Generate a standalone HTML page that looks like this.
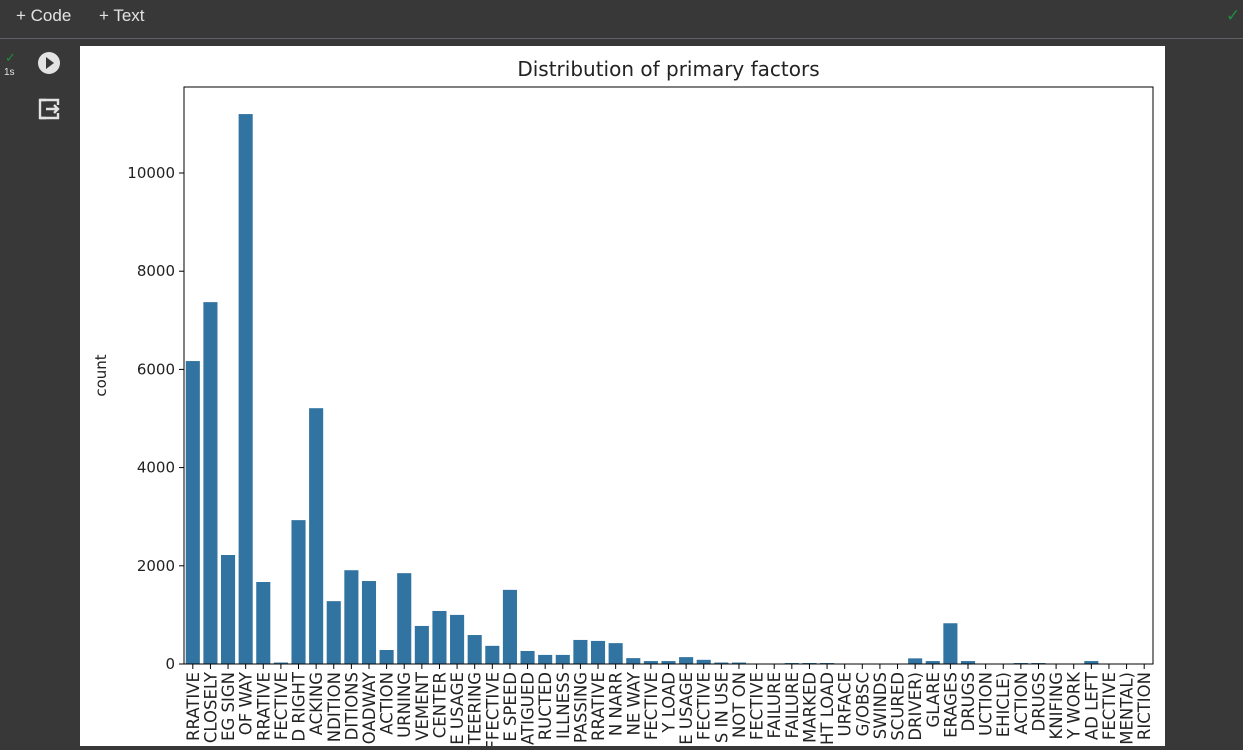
<!DOCTYPE html>
<html><head><meta charset="utf-8"><style>
body{margin:0;width:1243px;height:750px;overflow:hidden;background:#383838;font-family:"Liberation Sans",sans-serif;position:relative}
.top{position:absolute;left:0;top:0;width:1243px;height:38px;border-bottom:1px solid #5f6368;color:#e3e3e3;font-size:17px}
.top span{position:absolute;top:6px}
.out{position:absolute;left:80px;top:46px;width:1085px;height:700px;background:#fff}
</style></head><body>
<div class="top">
<span style="left:16px">+ Code</span>
<span style="left:99px">+ Text</span>
<span style="left:1226px;color:#1e8e3e">✓</span>
</div>
<div style="position:absolute;left:5px;top:50px;color:#1e8e3e;font-size:13px">✓</div>
<div style="position:absolute;left:4px;top:67px;color:#e3e3e3;font-size:10px">1s</div>
<svg style="position:absolute;left:37px;top:51px" width="26" height="26"><circle cx="12" cy="12" r="11" fill="#e3e3e3"/><path d="M9 6 L17 12 L9 18Z" fill="#383838"/></svg>
<svg style="position:absolute;left:37px;top:97px" width="26" height="26"><path d="M9 3 H3 V21 H9" stroke="#e3e3e3" stroke-width="2.4" fill="none"/><path d="M3 3 H21 V8 M21 16 V21 H3" stroke="#e3e3e3" stroke-width="2.4" fill="none"/><path d="M9 12 H21 M17 8 L21 12 L17 16" stroke="#e3e3e3" stroke-width="2.4" fill="none"/></svg>
<div class="out"></div>
<svg id="chart" style="position:absolute;left:0;top:0" width="1243" height="750"></svg>
<script>
const categories=["RRATIVE","CLOSELY","EG SIGN","OF WAY","RRATIVE","FECTIVE","D RIGHT","ACKING","NDITION","DITIONS","OADWAY","ACTION","URNING","VEMENT","CENTER","E USAGE","TEERING","FFECTIVE","E SPEED","ATIGUED","RUCTED","ILLNESS","PASSING","RRATIVE","N NARR","NE WAY","FECTIVE","Y LOAD","E USAGE","FECTIVE","S IN USE","NOT ON","FECTIVE","FAILURE","FAILURE","MARKED","HT LOAD","URFACE","G/OBSC","SWINDS","SCURED","DRIVER)","GLARE","ERAGES","DRUGS","UCTION","EHICLE)","ACTION","DRUGS","KNIFING","Y WORK","AD LEFT","FECTIVE","MENTAL)","RICTION"];
const counts=[6170,7370,2220,11200,1670,30,2930,5210,1280,1910,1690,285,1850,775,1080,1000,590,370,1510,265,185,185,490,470,425,120,60,60,140,85,30,30,0,0,20,20,20,0,0,0,0,115,60,830,60,0,0,20,20,0,0,60,0,0,0];
const yTicks=[0,2000,4000,6000,8000,10000];
const svg=document.getElementById('chart');const NS='http://www.w3.org/2000/svg';
const L=184,R=1153,T=87,B=664;
const y=v=>B-v*(491/10000);
const step=(R-L)/categories.length;
const x=i=>L+step*(i+0.5);
function mk(t,a){const e=document.createElementNS(NS,t);for(const k in a)e.setAttribute(k,a[k]);svg.appendChild(e);return e;}
counts.forEach((v,i)=>{const r=mk('rect',{x:x(i)-step*0.4,y:y(v),width:step*0.8,height:B-y(v),fill:'#3274a1'});

});
const frame=mk('rect',{x:L,y:T,width:R-L,height:B-T,fill:'none',stroke:'#000','stroke-width':1});


yTicks.forEach(t=>{mk('line',{x1:L-5,x2:L,y1:y(t),y2:y(t),stroke:'#000'});
const tx=mk('text',{x:L-9,y:y(t)+5,'text-anchor':'end','font-size':'15','font-family':'DejaVu Sans, sans-serif',fill:'#222'});tx.textContent=t;

});
categories.forEach((c,i)=>{mk('line',{x1:x(i),x2:x(i),y1:B,y2:B+5,stroke:'#000'});
const tx=mk('text',{x:0,y:0,'text-anchor':'end','font-size':'16.5','font-family':'DejaVu Sans, sans-serif',fill:'#222',transform:`translate(${x(i)+6},${B+8}) rotate(-90)`});tx.textContent=c;

});
const ttl=mk('text',{x:(L+R)/2,y:76,'text-anchor':'middle','font-size':'20','font-family':'DejaVu Sans, sans-serif',fill:'#222'});ttl.textContent='Distribution of primary factors';


const yl=mk('text',{x:0,y:0,'text-anchor':'middle','font-size':'15','font-family':'DejaVu Sans, sans-serif',fill:'#222',transform:`translate(106,${(T+B)/2}) rotate(-90)`});yl.textContent='count';


const bot=mk('rect',{x:0,y:746,width:1243,height:4,fill:'#383838'});


</script>
</body></html>
